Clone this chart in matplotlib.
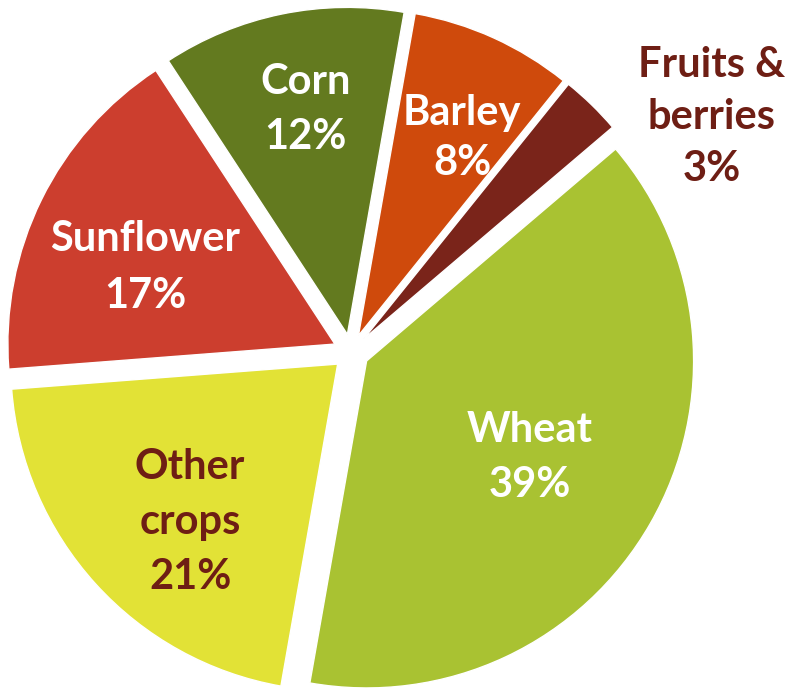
import matplotlib
matplotlib.use("Agg")
import matplotlib.pyplot as plt
import numpy as np

categories = ["Wheat", "Fruits &\nberries", "Barley", "Corn", "Sunflower", "Other\ncrops"]
values = [39, 3, 8, 12, 17, 21]

colors = ["#A9C232", "#7A241A", "#CF4A0C", "#637A1F", "#CC3E2E", "#E2E236"]
text_colors = ["white", "#6E1E14", "white", "white", "white", "#6E1E14"]
label_radius = [0.635, 1.317, 0.738, 0.755, 0.68, 0.716]
label_angle_shift = [-0.6, -12.7, -3.0, -1.0, 3.8, 4.4]
line_spacing = [1.55, 1.45, 1.38, 1.55, 1.62, 1.55]

fig = plt.figure(figsize=(7.87, 6.96), dpi=100)
ax = fig.add_axes([0, 0, 1, 1])
scale = 327.0
cx, cy = 351.0, 352.0

wedges, _ = ax.pie(values, colors=colors, startangle=-100, counterclock=True,
                   explode=[0.055] * len(values),
                   wedgeprops=dict(edgecolor="white", linewidth=1))

for w, cat, val, tc, r, sh, ls in zip(wedges, categories, values, text_colors,
                                       label_radius, label_angle_shift, line_spacing):
    ang = np.deg2rad((w.theta1 + w.theta2) / 2 + sh)
    x, y = r * np.cos(ang), r * np.sin(ang)
    ax.text(x, y, f"{cat}\n{val}%", ha="center", va="center", color=tc,
            fontsize=30, fontweight="bold", family=["Lato", "DejaVu Sans"],
            linespacing=ls)

ax.set_xlim(-cx / scale, (787 - cx) / scale)
ax.set_ylim(-(696 - cy) / scale, cy / scale)
ax.set_aspect("auto")
ax.axis("off")
fig.savefig("out.png", dpi=100)
